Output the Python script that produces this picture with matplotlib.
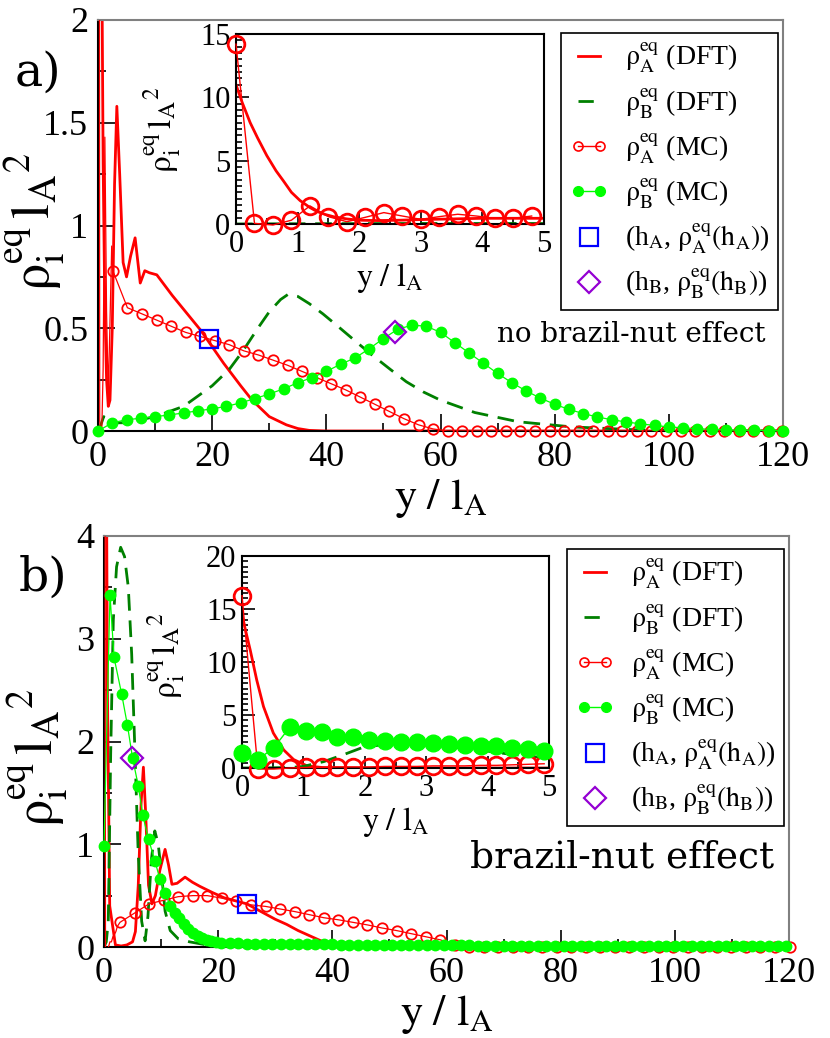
import numpy as np
import matplotlib
matplotlib.use('Agg')
import matplotlib.pyplot as plt
from matplotlib.ticker import MultipleLocator
from matplotlib.legend_handler import HandlerLine2D
from matplotlib.lines import Line2D

plt.rcParams['font.family'] = ['Liberation Serif', 'DejaVu Serif']
plt.rcParams['mathtext.fontset'] = 'stix'

RED = '#ff0000'
DGREEN = '#008000'
LGREEN = '#00ff00'
BLUE = '#0000ff'
VIOLET = '#9400d3'
GRAY = '#808080'

# ---------------- panel a (no brazil-nut effect) ----------------
a_dft_a_x = [0, 0.3, 0.6, 0.9, 1.2, 1.5, 1.8, 2.1, 2.5, 2.9, 3.3, 3.8, 4.4, 5.0, 5.7, 6.5, 7.4, 8.2, 9.0,
             10.3, 13, 18, 22, 25, 27, 30, 33, 35, 37, 40, 120]
a_dft_a_y = [10.5, 5, 2.6, 1.3, 0.6, 0.25, 0.12, 0.15, 0.5, 1.2, 1.58, 1.25, 0.82, 0.75, 0.85, 0.94, 0.72, 0.78, 0.77,
             0.76, 0.66, 0.49, 0.33, 0.22, 0.15, 0.07, 0.03, 0.012, 0.003, 0, 0]

a_dft_b_x = [0, 0.5, 1.0, 1.5, 2.5, 5, 10, 15, 18, 20, 23, 25.4, 28, 30, 32, 33.3, 35, 37, 39.4, 42, 45.4, 48,
             51.2, 54, 57, 60, 66, 73.6, 83, 95, 110, 120]
a_dft_b_y = [0, 0.03, 0.07, 0.06, 0.04, 0.04, 0.07, 0.12, 0.18, 0.22, 0.30, 0.39, 0.50, 0.58, 0.64, 0.665, 0.655,
             0.62, 0.57, 0.51, 0.43, 0.37, 0.30, 0.24, 0.19, 0.15, 0.09, 0.045, 0.02, 0.005, 0.001, 0]

# MC A near the wall (fine sampling, line only in the main plot)
a_mc_a_near_x = [0, 0.3, 0.6, 0.9, 1.2, 1.5, 1.8, 2.1, 2.4]
a_mc_a_near_y = [14.2, 0.05, -0.08, 0.3, 1.43, 0.58, 0.18, 0.53, 0.9]
# MC A coarse (with symbols)
a_mc_a_x = list(np.round(np.arange(2.6, 121, 2.55), 2))
a_mc_a_y = [0.78, 0.60, 0.57, 0.54, 0.51, 0.48, 0.46, 0.44, 0.42, 0.39, 0.37, 0.345, 0.32, 0.29, 0.26, 0.23,
            0.20, 0.165, 0.13, 0.095, 0.06, 0.03, 0.01] + [0.0] * 24

a_mc_b_x = list(np.arange(0, 121, 2.5))
a_mc_b_y = [0, 0.04, 0.055, 0.062, 0.07, 0.078, 0.088, 0.098, 0.108, 0.12, 0.137, 0.158, 0.18, 0.205, 0.235,
            0.26, 0.29, 0.325, 0.355, 0.40, 0.45, 0.495, 0.515, 0.51, 0.48, 0.43, 0.38, 0.33, 0.28, 0.235,
            0.195, 0.16, 0.13, 0.105, 0.085, 0.068, 0.055, 0.044, 0.035, 0.027, 0.02, 0.015, 0.011, 0.008,
            0.006, 0.004, 0.003, 0.002, 0.001]

a_hA = (19.5, 0.45)
a_hB = (52.0, 0.48)

# inset a
ia_dft_a_x = [0, 0.1, 0.23, 0.35, 0.5, 0.65, 0.77, 0.9, 1.04, 1.2, 1.31, 1.45, 1.58, 1.8, 2.0, 2.3, 2.66, 3.0,
              3.5, 4, 4.5, 5]
ia_dft_a_y = [11, 9.6, 8.0, 6.8, 5.4, 4.2, 3.4, 2.5, 1.85, 1.3, 1.0, 0.75, 0.58, 0.4, 0.3, 0.27, 0.3, 0.35,
              0.4, 0.45, 0.45, 0.45]
ia_dft_b_x = [0, 1, 2, 3, 4, 5]
ia_dft_b_y = [0, 0.02, 0.03, 0.04, 0.04, 0.04]
ia_mc_a_x = list(np.round(np.arange(0, 4.9, 0.3), 2))
ia_mc_a_y = [14.2, 0.05, -0.08, 0.3, 1.43, 0.58, 0.18, 0.53, 0.9, 0.63, 0.37, 0.58, 0.77, 0.63, 0.45, 0.45, 0.63]

# ---------------- panel b (brazil-nut effect) ----------------
b_dft_a_x = [0, 0.2, 0.4, 0.6, 1, 2, 3, 4, 5, 5.5, 6.0, 6.5, 6.9, 7.3, 7.8, 8.4, 9.0, 9.8, 10.7, 11.3, 11.9,
             12.8, 14.2, 15.5, 16.8, 19, 21, 23, 25, 28, 30, 32, 34, 36, 38, 39, 40, 120]
b_dft_a_y = [14.5, 9, 5, 2.5, 0.4, 0.02, 0.01, 0.02, 0.05, 0.15, 0.6, 1.4, 1.75, 1.3, 0.6, 0.42, 0.5, 0.75, 0.95,
             0.8, 0.61, 0.62, 0.68, 0.63, 0.59, 0.53, 0.48, 0.45, 0.42, 0.33, 0.27, 0.22, 0.16, 0.11, 0.06, 0.03,
             0.01, 0]

b_dft_b_x = [0, 0.4, 0.75, 1.17, 1.63, 2.2, 2.92, 3.6, 4.26, 4.85, 5.43, 6.0, 6.6, 7.2, 7.7, 8.3, 8.9, 9.5,
             10.1, 10.7, 11.6, 13, 15, 18, 20, 25, 120]
b_dft_b_y = [0, 0.05, 0.25, 1.88, 3.18, 3.7, 3.89, 3.8, 3.5, 2.85, 1.88, 0.9, 0.25, 0.06, 0.3, 0.85, 1.13, 1.0,
             0.7, 0.35, 0.16, 0.08, 0.05, 0.02, 0.01, 0, 0]

b_mc_a_near_x = [0, 0.26, 0.52, 0.78, 1.04, 1.3, 1.56, 1.82, 2.08, 2.34]
b_mc_a_near_y = [16.25, -0.1, -0.1, 0.0, 0.05, 0.05, 0.1, 0.12, 0.15, 0.2]
b_mc_a_x = list(np.round(np.arange(2.8, 121, 2.55), 2))
b_mc_a_y = [0.24, 0.33, 0.42, 0.455, 0.49, 0.50, 0.50, 0.475, 0.445, 0.41, 0.395, 0.37, 0.345, 0.315, 0.285,
            0.265, 0.24, 0.215, 0.185, 0.16, 0.13, 0.10, 0.07, 0.02] + [0.0] * 23

b_mc_b_tail_x = list(np.arange(20.5, 121, 1.5))
b_mc_b_tail_y = [0.04, 0.038, 0.036, 0.034, 0.033, 0.032, 0.031, 0.03, 0.029, 0.028, 0.027, 0.026, 0.025,
                 0.025, 0.024, 0.023, 0.022, 0.022, 0.021, 0.02, 0.02, 0.019, 0.018, 0.018, 0.017, 0.017,
                 0.016, 0.016, 0.015, 0.015, 0.014, 0.014, 0.014, 0.013, 0.013, 0.013, 0.012, 0.012, 0.012,
                 0.011, 0.011, 0.011, 0.011, 0.01, 0.01, 0.01, 0.01, 0.01, 0.009, 0.009, 0.009, 0.009, 0.009,
                 0.008, 0.008, 0.008, 0.008, 0.008, 0.007, 0.007, 0.007, 0.007, 0.007, 0.006, 0.006, 0.006,
                 0.006][:len(b_mc_b_tail_x)]
b_mc_b_x = [0, 1.05, 1.75, 3.1, 4.1, 5.0, 6.0, 6.8, 7.8, 8.9, 9.8, 10.7, 11.6, 12.4, 13.2, 14.0, 14.8, 15.6,
            16.4, 17.2, 18.0, 18.8, 19.6] + b_mc_b_tail_x
b_mc_b_y = [0.98, 3.43, 2.82, 2.46, 2.16, 1.84, 1.57, 1.28, 1.05, 0.84, 0.66, 0.53, 0.40, 0.33, 0.28, 0.22,
            0.18, 0.14, 0.11, 0.09, 0.07, 0.055, 0.045] + b_mc_b_tail_y

b_hA = (25.1, 0.42)
b_hB = (4.85, 1.84)

# inset b
ib_x = list(np.round(np.arange(20) * 0.259, 3))
ib_mc_a_y = [16.25, -0.1, -0.1, 0.0, 0.05, 0.05, 0.1, 0.1, 0.1, 0.15, 0.15, 0.15, 0.2, 0.2, 0.2, 0.25, 0.25,
             0.3, 0.35, 0.4]
ib_mc_b_y = [1.4, 0.8, 1.9, 3.85, 3.45, 3.35, 2.97, 2.9, 2.65, 2.55, 2.5, 2.47, 2.4, 2.28, 2.2, 2.1, 2.03, 1.9,
             1.8, 1.65]
ib_dft_a_x = [0, 0.135, 0.24, 0.35, 0.51, 0.68, 0.84, 1.06, 1.3, 1.6, 2, 3, 4, 5]
ib_dft_a_y = [14.4, 11.1, 8.3, 5.8, 3.3, 1.7, 0.8, 0.2, 0.05, 0.02, 0, 0, 0, 0]
ib_dft_b_x = [0, 0.5, 0.8, 1.0, 1.33, 1.65, 1.98, 2.3, 2.68, 3.22, 3.76, 4.3, 4.95]
ib_dft_b_y = [0, 0.02, 0.05, 0.15, 0.6, 1.25, 1.97, 2.2, 2.28, 2.1, 1.78, 1.35, 0.95]

# ---------------- figure ----------------
W, H = 830, 1038
fig = plt.figure(figsize=(W / 100, H / 100), dpi=100)


def px_axes(l, t, r, b):
    return fig.add_axes([l / W, 1 - b / H, (r - l) / W, (b - t) / H])


def style(ax, labelsize, major_len, minor_len, frame_gray=True):
    ax.tick_params(which='both', direction='in', top=False, right=False, width=1.2, labelsize=labelsize)
    ax.tick_params(which='major', length=major_len, pad=7)
    ax.tick_params(which='minor', length=minor_len)
    for s in ('left', 'bottom'):
        ax.spines[s].set_linewidth(1.5)
        ax.spines[s].set_color('black')
    for s in ('top', 'right'):
        ax.spines[s].set_linewidth(1.5)
        ax.spines[s].set_color(GRAY if frame_gray else 'black')
    ax.set_facecolor('none')


DFT_LW = 2.0
DASH = (0, (6, 3.5))

ylab = r'$\mathrm{\rho_{i}^{eq}\,l_{A}{}^{2}}$'
xlab = r'$\mathrm{y\ /\ l_{A}}$'


def main_panel(ax, dfta, dftb, mca_near, mca, mcb, hA, hB, ylim, ymaj, ymin):
    ax.plot(dfta[0], dfta[1], color=RED, lw=DFT_LW, zorder=2)
    ax.plot(dftb[0], dftb[1], color=DGREEN, lw=DFT_LW, ls=DASH, zorder=2)
    ax.plot(list(mca_near[0]) + list(mca[0]), list(mca_near[1]) + list(mca[1]), color=RED, lw=0.9, zorder=3)
    ax.plot(mca[0], mca[1], ls='none', marker='o', ms=7.5, mfc='none', mec=RED, mew=1.3, zorder=3,
            clip_on=False)
    ax.plot(mcb[0], mcb[1], color=LGREEN, lw=0.9, marker='o', ms=7.5, mfc=LGREEN, mec=LGREEN, zorder=4,
            clip_on=False)
    ax.plot([hA[0]], [hA[1]], ls='none', marker='s', ms=13, mfc='none', mec=BLUE, mew=1.6, zorder=6)
    ax.plot([hB[0]], [hB[1]], ls='none', marker='D', ms=11.5, mfc='none', mec=VIOLET, mew=1.6, zorder=6)
    ax.set_xlim(0, 120)
    ax.set_ylim(*ylim)
    ax.xaxis.set_major_locator(MultipleLocator(20))
    ax.xaxis.set_minor_locator(MultipleLocator(10))
    ax.yaxis.set_major_locator(MultipleLocator(ymaj))
    ax.yaxis.set_minor_locator(MultipleLocator(ymin))
    style(ax, 26, 12, 6)
    ax.set_xlabel(xlab, fontsize=32, labelpad=2)
    ax.yaxis.set_major_formatter(plt.FuncFormatter(lambda v, p: ('%g' % v)))


def inset_panel(ax, dfta, dftb, mca, mcb, ylim):
    ax.plot(dfta[0], dfta[1], color=RED, lw=DFT_LW, zorder=2)
    ax.plot(dftb[0], dftb[1], color=DGREEN, lw=DFT_LW, ls=DASH, zorder=2)
    ax.plot(mca[0], mca[1], color=RED, lw=1.0, marker='o', ms=12, mfc='none', mec=RED, mew=2.0, zorder=3,
            clip_on=False)
    if mcb is not None:
        ax.plot(mcb[0], mcb[1], color=LGREEN, lw=1.0, marker='o', ms=12, mfc=LGREEN, mec=LGREEN, zorder=4,
                clip_on=False)
    ax.set_xlim(0, 5)
    ax.set_ylim(*ylim)
    ax.xaxis.set_major_locator(MultipleLocator(1))
    ax.xaxis.set_minor_locator(MultipleLocator(0.5))
    ax.yaxis.set_major_locator(MultipleLocator(5))
    ax.yaxis.set_minor_locator(MultipleLocator(0.5))
    style(ax, 22, 9, 4.5, frame_gray=False)
    ax.tick_params(which='major', pad=4)
    ax.set_facecolor('white')
    ax.set_xlabel(xlab, fontsize=23, labelpad=2)


# panel a
axa = px_axes(98, 20, 783, 431)
main_panel(axa, (a_dft_a_x, a_dft_a_y), (a_dft_b_x, a_dft_b_y), (a_mc_a_near_x, a_mc_a_near_y),
           (a_mc_a_x, a_mc_a_y), (a_mc_b_x, a_mc_b_y), a_hA, a_hB, (0, 2), 0.5, 0.25)
ina = px_axes(236, 34, 544, 224)
inset_panel(ina, (ia_dft_a_x, ia_dft_a_y), (ia_dft_b_x, ia_dft_b_y), (ia_mc_a_x, ia_mc_a_y), None, (0, 15))

# panel b
axb = px_axes(104, 536, 789, 947)
main_panel(axb, (b_dft_a_x, b_dft_a_y), (b_dft_b_x, b_dft_b_y), (b_mc_a_near_x, b_mc_a_near_y),
           (b_mc_a_x, b_mc_a_y), (b_mc_b_x, b_mc_b_y), b_hA, b_hB, (0, 4), 1, 0.5)
inb = px_axes(242, 556, 549, 768)
inset_panel(inb, (ib_dft_a_x, ib_dft_a_y), (ib_dft_b_x, ib_dft_b_y), (ib_x, ib_mc_a_y), (ib_x, ib_mc_b_y),
            (0, 20))

# y labels (figure text)
for cx, cy, fs in [(35, 222, 39), (38, 758, 39), (162, 130, 24), (166, 656, 24)]:
    fig.text(cx / W, 1 - cy / H, ylab, rotation=90, fontsize=fs, ha='center', va='center')

# panel tags
fig.text(38 / W, 1 - 73 / H, 'a)', family='DejaVu Serif', fontsize=34, ha='center', va='center')
fig.text(43 / W, 1 - 578 / H, 'b)', family='DejaVu Serif', fontsize=34, ha='center', va='center')

# annotations
fig.text(631 / W, 1 - 335 / H, 'no brazil-nut effect', family='DejaVu Serif', fontsize=20, ha='center',
         va='center')
fig.text(622 / W, 1 - 858 / H, 'brazil-nut effect', family='DejaVu Serif', fontsize=27, ha='center',
         va='center')

# legends
labels = [r'$\mathrm{\rho_{A}^{eq}}$ (DFT)', r'$\mathrm{\rho_{B}^{eq}}$ (DFT)',
          r'$\mathrm{\rho_{A}^{eq}}$ (MC)', r'$\mathrm{\rho_{B}^{eq}}$ (MC)',
          r'(h$_{\mathrm{A}}$, $\mathrm{\rho_{A}^{eq}(h_{A})}$)',
          r'(h$_{\mathrm{B}}$, $\mathrm{\rho_{B}^{eq}(h_{B})}$)']


def make_handles():
    h1 = Line2D([], [], color=RED, lw=DFT_LW)
    h2 = Line2D([], [], color=DGREEN, lw=DFT_LW, ls=(0, (5.5, 3.0)))
    h3 = Line2D([], [], color=RED, lw=1.0, marker='o', ms=6.5, mfc='none', mec=RED, mew=1.2)
    h4 = Line2D([], [], color=LGREEN, lw=1.0, marker='o', ms=7, mfc=LGREEN, mec=LGREEN)
    h5 = Line2D([], [], ls='none', marker='s', ms=13, mfc='none', mec=BLUE, mew=1.6)
    h6 = Line2D([], [], ls='none', marker='D', ms=11.5, mfc='none', mec=VIOLET, mew=1.6)
    return [h1, h2, h3, h4, h5, h6]


for (r, t) in [(778, 33), (784, 549)]:
    hs = make_handles()
    leg = fig.legend(hs, labels, loc='upper right', bbox_to_anchor=(r / W, 1 - t / H),
                     bbox_transform=fig.transFigure, fontsize=20, frameon=True, fancybox=False,
                     edgecolor='black', framealpha=1, borderaxespad=0, handlelength=1.4,
                     handletextpad=0.6, labelspacing=0.4, borderpad=0.3, numpoints=2,
                     handler_map={hs[4]: HandlerLine2D(numpoints=1), hs[5]: HandlerLine2D(numpoints=1)})
    leg.get_frame().set_linewidth(1.2)

fig.savefig('out.png', dpi=100)
